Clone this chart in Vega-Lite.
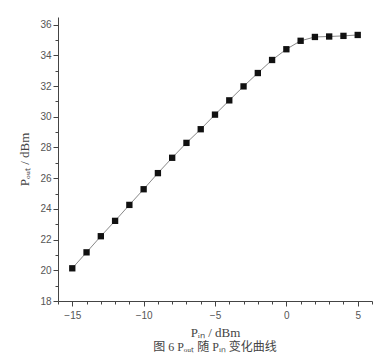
{
  "$schema": "https://vega.github.io/schema/vega-lite/v6.json",
  "width": 314,
  "height": 284,
  "autosize": {"type": "none"},
  "padding": {"left": 58, "top": 17, "right": 5, "bottom": 60},
  "background": "white",
  "config": {"view": {"stroke": null}},
  "title": {
    "text": "图 6   Pₒᵤₜ  随  Pᵢₙ  变化曲线",
    "orient": "bottom",
    "anchor": "middle",
    "font": "Liberation Serif, Noto Sans CJK SC",
    "fontSize": 12,
    "fontWeight": "normal",
    "color": "#444",
    "offset": 3
  },
  "data": {
    "values": [
      {"pin": -15, "pout": 20.13},
      {"pin": -14, "pout": 21.17},
      {"pin": -13, "pout": 22.22},
      {"pin": -12, "pout": 23.22},
      {"pin": -11, "pout": 24.26},
      {"pin": -10, "pout": 25.28},
      {"pin": -9, "pout": 26.33},
      {"pin": -8, "pout": 27.33},
      {"pin": -7, "pout": 28.3},
      {"pin": -6, "pout": 29.19},
      {"pin": -5, "pout": 30.14},
      {"pin": -4, "pout": 31.07},
      {"pin": -3, "pout": 31.98},
      {"pin": -2, "pout": 32.85},
      {"pin": -1, "pout": 33.7},
      {"pin": 0, "pout": 34.4},
      {"pin": 1, "pout": 34.95},
      {"pin": 2, "pout": 35.2},
      {"pin": 3, "pout": 35.23},
      {"pin": 4, "pout": 35.27},
      {"pin": 5, "pout": 35.33}
    ]
  },
  "layer": [
    {
      "mark": {"type": "line", "color": "#888", "strokeWidth": 1},
      "encoding": {
        "x": {
          "field": "pin", "type": "quantitative",
          "scale": {"domain": [-16, 6], "nice": false, "zero": false},
          "axis": {
            "orient": "bottom",
            "values": [-15, -10, -5, 0, 5],
            "title": "Pᵢₙ / dBm",
            "titleFont": "Liberation Serif",
            "titleFontStyle": "normal",
            "titleFontWeight": "normal",
            "titleFontSize": 13,
            "titleColor": "#444",
            "titlePadding": 6,
            "labelFont": "Liberation Sans",
            "labelFontSize": 10,
            "labelColor": "#555",
            "labelPadding": 4,
            "domainColor": "#444",
            "tickColor": "#444",
            "tickSize": 5,
            "grid": false
          }
        },
        "y": {
          "field": "pout", "type": "quantitative",
          "scale": {"domain": [18, 36.5], "nice": false, "zero": false},
          "axis": {
            "orient": "left",
            "values": [18, 20, 22, 24, 26, 28, 30, 32, 34, 36],
            "title": "Pₒᵤₜ / dBm",
            "titleFont": "Liberation Serif",
            "titleFontStyle": "normal",
            "titleFontWeight": "normal",
            "titleFontSize": 13,
            "titleColor": "#444",
            "titlePadding": 8,
            "labelFont": "Liberation Sans",
            "labelFontSize": 10,
            "labelColor": "#555",
            "labelPadding": 2,
            "domainColor": "#444",
            "tickColor": "#444",
            "tickSize": 5,
            "grid": false
          }
        }
      }
    },
    {
      "mark": {"type": "square", "color": "#111", "size": 40, "opacity": 1, "filled": true},
      "encoding": {
        "x": {
          "field": "pin", "type": "quantitative",
          "scale": {"domain": [-16, 6], "nice": false, "zero": false},
          "axis": {
            "orient": "bottom",
            "values": [-16, -14, -13, -12, -11, -9, -8, -7, -6, -4, -3, -2, -1, 1, 2, 3, 4, 6],
            "labels": false,
            "title": null,
            "domain": false,
            "tickColor": "#444",
            "tickSize": 3,
            "grid": false
          }
        },
        "y": {
          "field": "pout", "type": "quantitative",
          "scale": {"domain": [18, 36.5], "nice": false, "zero": false},
          "axis": {
            "orient": "left",
            "values": [19, 21, 23, 25, 27, 29, 31, 33, 35],
            "labels": false,
            "title": null,
            "domain": false,
            "tickColor": "#444",
            "tickSize": 3,
            "grid": false
          }
        }
      }
    }
  ],
  "resolve": {"axis": {"x": "independent", "y": "independent"}}
}
